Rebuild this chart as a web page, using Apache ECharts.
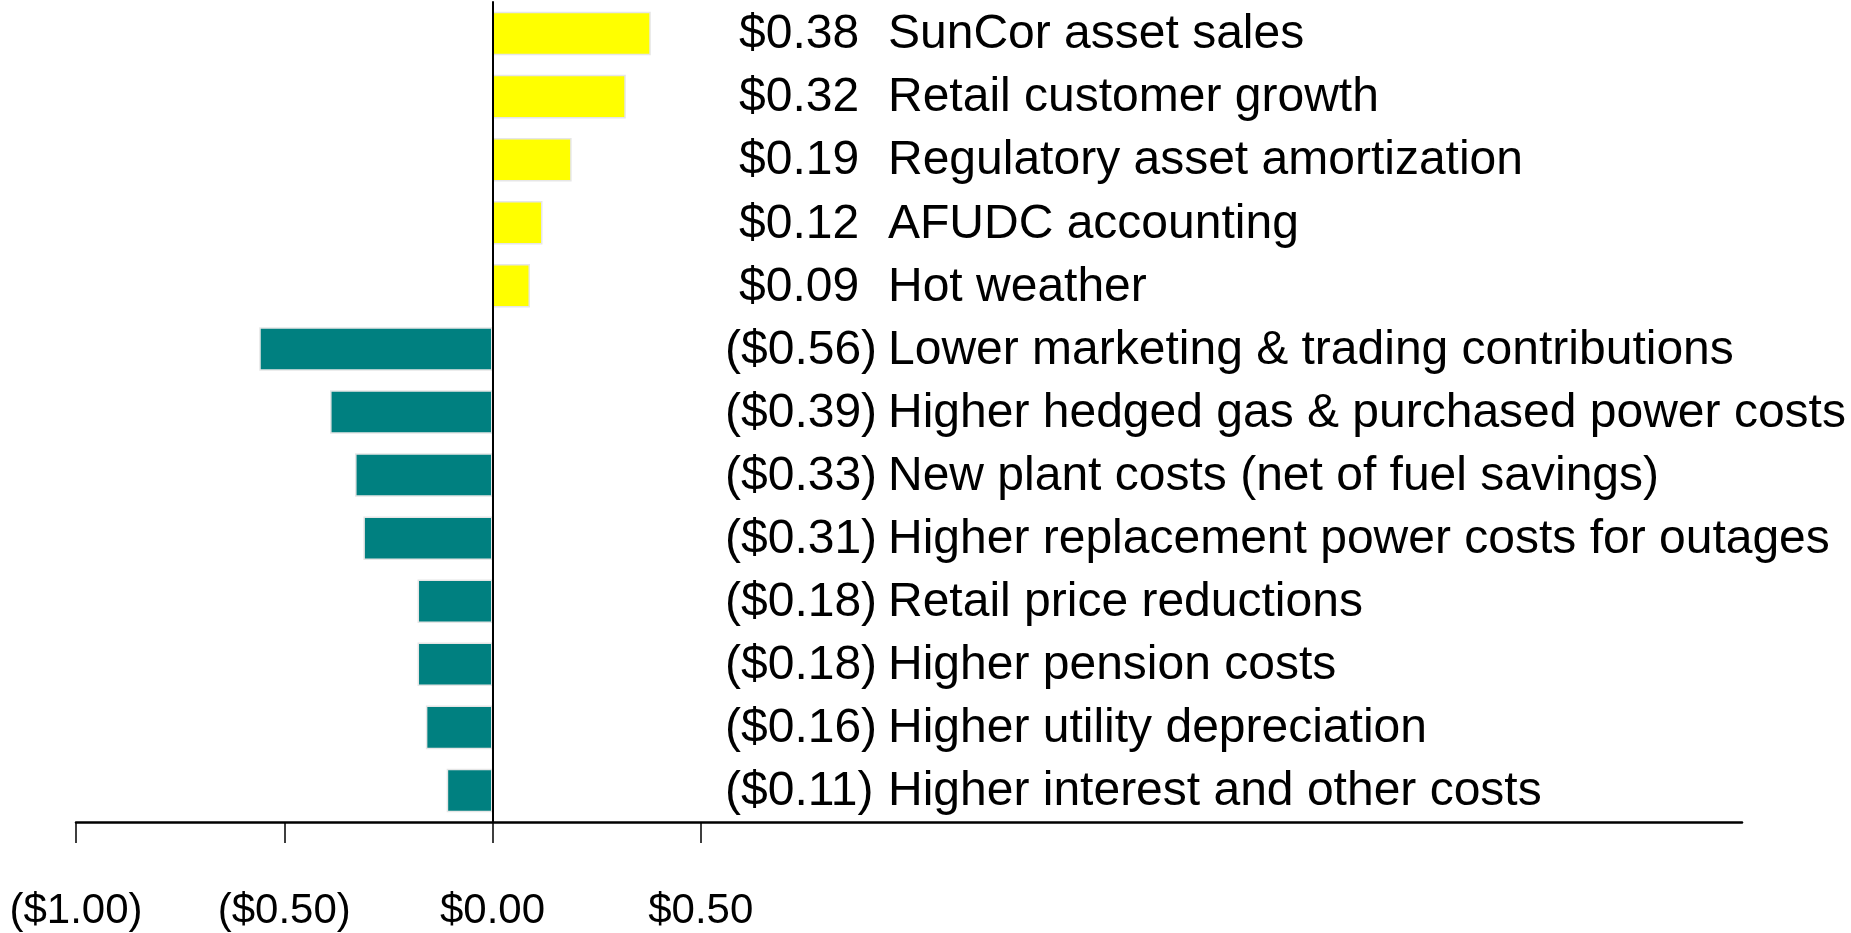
<!DOCTYPE html>
<html>
<head>
<meta charset="utf-8">
<script src="https://cdn.jsdelivr.net/npm/echarts@6/dist/echarts.min.js"></script>
<style>
  html, body { margin: 0; padding: 0; background: #fff; }
  #chart { width: 1851px; height: 933px; }
</style>
</head>
<body>
<div id="chart"></div>
<script>
// items, top to bottom
var categories = [
    "SunCor asset sales",
    "Retail customer growth",
    "Regulatory asset amortization",
    "AFUDC accounting",
    "Hot weather",
    "Lower marketing & trading contributions",
    "Higher hedged gas & purchased power costs",
    "New plant costs (net of fuel savings)",
    "Higher replacement power costs for outages",
    "Retail price reductions",
    "Higher pension costs",
    "Higher utility depreciation",
    "Higher interest and other costs"
];
var values = [0.38, 0.32, 0.19, 0.12, 0.09, -0.56, -0.39, -0.33, -0.31, -0.18, -0.18, -0.16, -0.11];
var tickValues = [-1, -0.5, 0, 0.5];

var yellow = '#FFFF00';
var teal = '#008080';
var fontName = '"Liberation Sans", Arial, sans-serif';

function money(v) {
    var s = '$' + Math.abs(v).toFixed(2);
    return v < 0 ? '(' + s + ')' : s;
}

var chart = echarts.init(document.getElementById('chart'));

var option = {
    animation: false,
    backgroundColor: '#fff',
    grid: {
        left: 76,
        right: 109,
        top: 2,
        height: 820
    },
    xAxis: {
        type: 'value',
        min: -1,
        max: 3,
        interval: 0.5,
        splitLine: { show: false },
        axisLine: { show: true, onZero: false, lineStyle: { color: '#000', width: 2.5 } },
        axisTick: {
            show: true,
            customValues: tickValues,
            length: 21,
            lineStyle: { color: '#000', width: 1.5 }
        },
        axisLabel: {
            customValues: tickValues,
            margin: 68,
            fontSize: 42,
            color: '#000',
            fontFamily: fontName,
            formatter: function(v) { return money(v); }
        }
    },
    yAxis: [{
        type: 'category',
        inverse: true,
        data: categories,
        z: 5,
        axisLine: { show: true, onZero: true, lineStyle: { color: '#000', width: 2 } },
        axisTick: { show: false },
        axisLabel: { show: false },
        splitLine: { show: false }
    }, {
        // text column on the right, pulled back in from the grid edge
        type: 'category',
        inverse: true,
        position: 'right',
        offset: -1017,
        data: categories,
        axisLine: { show: false },
        axisTick: { show: false },
        splitLine: { show: false },
        axisLabel: {
            margin: 0,
            color: '#000',
            fontFamily: fontName,
            fontSize: 48,
            formatter: function(name, idx) {
                var v = values[idx];
                var tag = v < 0 ? 'neg' : 'pos';
                return '{' + tag + '|' + money(v) + '}{txt|' + name + '}';
            },
            rich: {
                pos: { width: 149, padding: [3, 0, 0, 14], fontSize: 48, fontFamily: fontName, color: '#000' },
                neg: { width: 163, padding: [3, 0, 0, 0], fontSize: 48, fontFamily: fontName, color: '#000' },
                txt: { padding: [3, 0, 0, 0], fontSize: 48, fontFamily: fontName, color: '#000' }
            }
        }
    }],
    series: [{
        type: 'bar',
        yAxisIndex: 0,
        data: values,
        barCategoryGap: '31%',
        itemStyle: {
            color: function(p) { return p.value >= 0 ? yellow : teal; },
            borderColor: '#e6e6e6',
            borderWidth: 1.5
        }
    }]
};

chart.setOption(option);
</script>
</body>
</html>
